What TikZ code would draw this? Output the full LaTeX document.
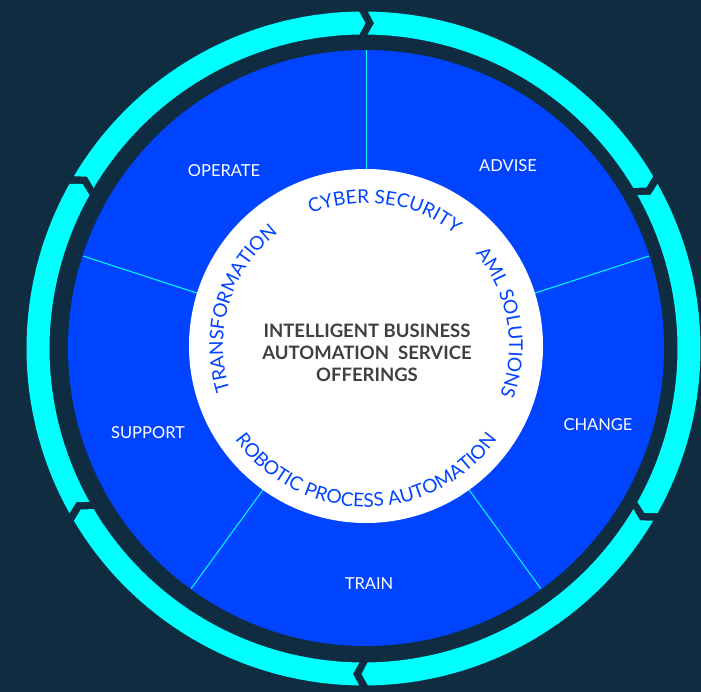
\documentclass[tikz,border=0pt]{standalone}
\usepackage{fontspec}
\setmainfont{Lato}
\usetikzlibrary{decorations.text}
\definecolor{bg}{HTML}{0F2C40}
\definecolor{disk}{HTML}{0044FF}
\definecolor{ringc}{HTML}{00FFFF}
\definecolor{ctext}{HTML}{404040}
\tikzset{
  spoke/.style={draw=ringc, line width=1pt},
  seglabel/.style={text=white, font=\fontsize{16.5}{18}\selectfont},
  centertext/.style={text=ctext, align=center, font=\bfseries\fontsize{18.5}{22}\selectfont},
  arctext/.style={decorate, decoration={text along path, text color=disk, text align=center,
     text={|\fontsize{19}{20}\selectfont|#1}}}
}
\begin{document}
\begin{tikzpicture}[x=1pt,y=1pt]
\fill[bg] (0,0) rectangle (701,692);
\useasboundingbox (0,0) rectangle (701,692);
\coordinate (rc) at (363.5,343.5);
\coordinate (bc) at (366,344);
\coordinate (wc) at (366,346);
% outer chevron ring
\def\Ro{337}\def\Ri{314}\def\Rm{325.5}
\foreach \s in {90,30,-30,-90,-150,-210}{
  \pgfmathsetmacro{\aA}{\s-0.75}
  \pgfmathsetmacro{\aB}{\s-60+0.75}
  \pgfmathsetmacro{\aT}{\s-60+0.75-1.1}
  \pgfmathsetmacro{\aN}{\s-0.75-1.1}
  \fill[ringc] ([shift={(rc)}]\aA:\Ro) arc[start angle=\aA, end angle=\aB, radius=\Ro]
     -- ([shift={(rc)}]\aT:\Rm) -- ([shift={(rc)}]\aB:\Ri)
     arc[start angle=\aB, end angle=\aA, radius=\Ri]
     -- ([shift={(rc)}]\aN:\Rm) -- cycle;
}
% blue disk
\fill[disk] (bc) circle[radius=298];
\foreach \a in {90,18,-54,-126,162}{
  \draw[spoke] (bc) -- ([shift={(bc)}]\a:297.5);
}
% white centre
\fill[white] (wc) circle[radius=177];
% curved texts
\path[arctext={CYBER SECURITY}] ([shift={(wc)}]142:143) arc[start angle=142, end angle=22, radius=143];
\path[arctext={AML SOLUTIONS}] ([shift={(wc)}]70:143) arc[start angle=70, end angle=-50, radius=143];
\path[arctext={TRANSFORMATION}] ([shift={(wc)}]223:143) arc[start angle=223, end angle=103, radius=143];
\path[arctext={ROBOTIC PROCESS AUTOMATION}] ([shift={(wc)}]-180:161) arc[start angle=-180, end angle=0, radius=161];
% centre text
\node[centertext] (title) at (367,339) {INTELLIGENT BUSINESS\\AUTOMATION\ \ SERVICE\\OFFERINGS};
% segment labels
\node[seglabel] (operate) at (224,521) {OPERATE};
\node[seglabel] (advise) at (508,526) {ADVISE};
\node[seglabel] (change) at (598,267) {CHANGE};
\node[seglabel] (train) at (369,108) {TRAIN};
\node[seglabel] (support) at (148,259) {SUPPORT};
\end{tikzpicture}
\end{document}
